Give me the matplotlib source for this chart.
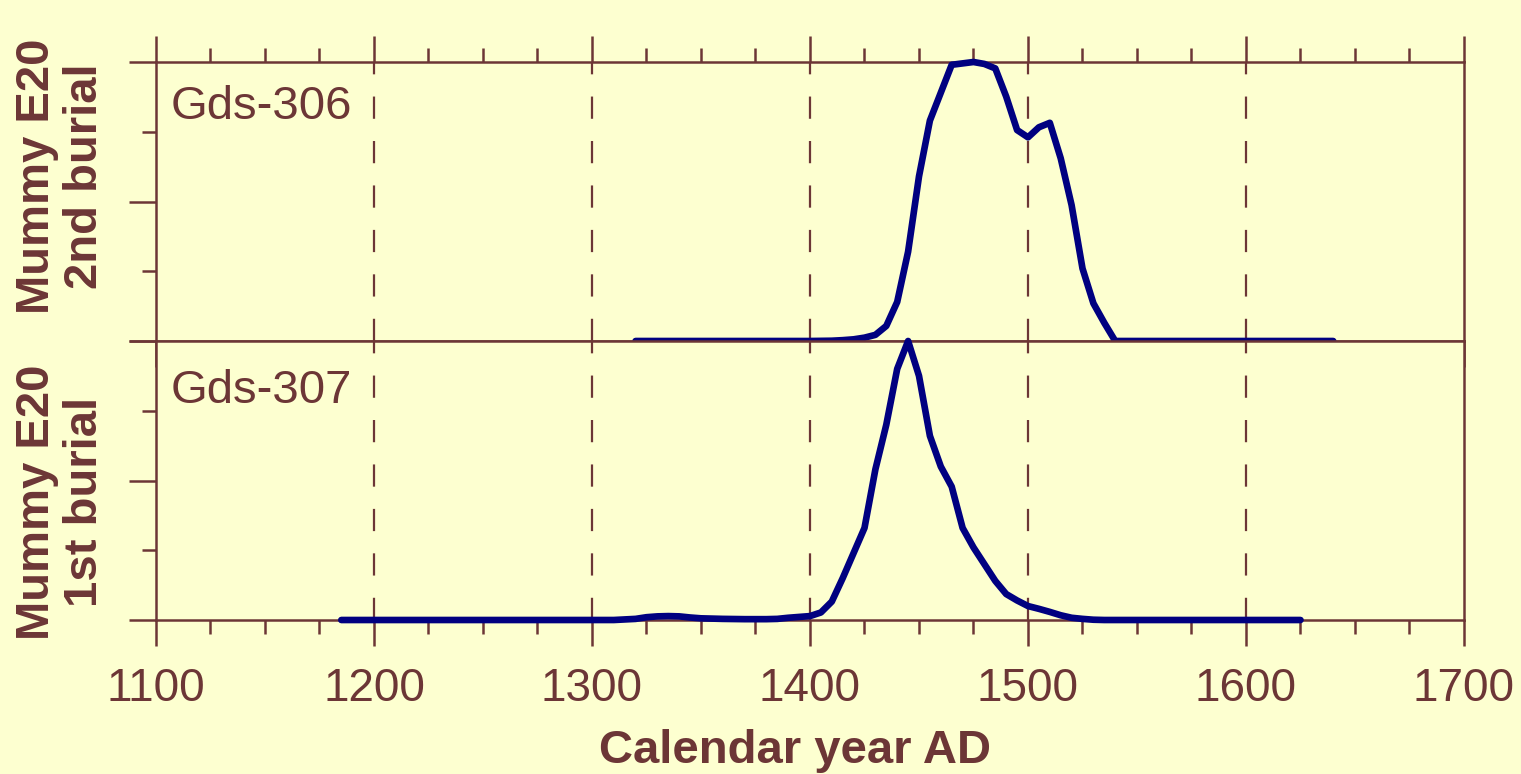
import matplotlib
matplotlib.use('Agg')
import matplotlib.pyplot as plt
from matplotlib.ticker import MultipleLocator

# Gds-306 (mummy E20, 2nd burial)
anos_306 = [1320, 1400, 1410, 1415, 1420, 1425, 1430, 1435, 1440, 1445, 1450, 1455,
            1460, 1465, 1470, 1475, 1480, 1485, 1490, 1495, 1500, 1505, 1510, 1515,
            1520, 1525, 1530, 1535, 1540, 1640]
prob_306 = [0.0, 0.0, 0.001, 0.003, 0.006, 0.012, 0.022, 0.054, 0.14, 0.32, 0.59, 0.79,
            0.89, 0.99, 0.995, 1.0, 0.993, 0.977, 0.876, 0.756, 0.73, 0.766, 0.782, 0.655,
            0.487, 0.26, 0.135, 0.065, 0.0, 0.0]

# Gds-307 (mummy E20, 1st burial)
anos_307 = [1185, 1310, 1320, 1325, 1330, 1335, 1340, 1345, 1350, 1360, 1370, 1380,
            1385, 1390, 1395, 1400, 1405, 1410, 1415, 1420, 1425, 1430, 1435, 1440,
            1445, 1450, 1455, 1460, 1465, 1470, 1475, 1480, 1485, 1490, 1495, 1500,
            1505, 1510, 1515, 1520, 1525, 1530, 1535, 1625]
prob_307 = [0.0, 0.0, 0.004, 0.01, 0.013, 0.014, 0.013, 0.009, 0.006, 0.004, 0.003, 0.003,
            0.004, 0.008, 0.011, 0.014, 0.027, 0.066, 0.15, 0.24, 0.33, 0.54, 0.70, 0.90,
            1.0, 0.875, 0.66, 0.55, 0.478, 0.33, 0.26, 0.2, 0.14, 0.093, 0.07, 0.05,
            0.04, 0.029, 0.017, 0.008, 0.004, 0.001, 0.0, 0.0]

rotulos = ['Gds-306', 'Gds-307']
titulos_y = ['Mummy E20\n2nd burial', 'Mummy E20\n1st burial']

FUNDO = '#fdffd0'
MARROM = '#6c3636'
AZUL = '#000080'

plt.rcParams['font.family'] = ['Liberation Sans', 'DejaVu Sans']
plt.rcParams['lines.scale_dashes'] = False


def formatar_eixo(ax, topo, base):
    ax.set_facecolor(FUNDO)
    ax.set_xlim(1100, 1700)
    ax.set_ylim(0, 1)
    for s in ax.spines.values():
        s.set_color(MARROM)
        s.set_linewidth(1.8)
    ax.xaxis.set_major_locator(MultipleLocator(100))
    ax.xaxis.set_minor_locator(MultipleLocator(25))
    ax.yaxis.set_major_locator(MultipleLocator(0.5))
    ax.yaxis.set_minor_locator(MultipleLocator(0.25))
    ax.tick_params(axis='x', which='both', direction='out', color=MARROM, width=1.8,
                   top=topo, bottom=base, labeltop=False, labelbottom=False)
    ax.tick_params(axis='x', which='major', length=18.5)
    ax.tick_params(axis='x', which='minor', length=10)
    ax.tick_params(axis='y', which='both', direction='out', color=MARROM, width=1.8,
                   left=True, right=False, labelleft=False)
    ax.tick_params(axis='y', which='major', length=19.5)
    ax.tick_params(axis='y', which='minor', length=10)
    # linhas tracejadas verticais
    for ano in [1200, 1300, 1400, 1500, 1600]:
        ax.axvline(ano, color=MARROM, lw=1.6, dashes=(16, 16), zorder=1)


def main():
    fig = plt.figure(figsize=(15.21, 7.74), dpi=100, facecolor=FUNDO)
    esq = 156 / 1521
    larg = (1464 - 156) / 1521
    alt = 279 / 774
    ax1 = fig.add_axes([esq, 1 - 341 / 774, larg, alt])
    ax2 = fig.add_axes([esq, 1 - 620 / 774, larg, alt])

    formatar_eixo(ax1, True, True)
    formatar_eixo(ax2, False, True)
    ax2.tick_params(axis='x', labelbottom=True, labelsize=33, labelcolor=MARROM, pad=15)

    ax1.plot(anos_306, prob_306, color=AZUL, lw=4.8, clip_on=False, zorder=5,
             solid_capstyle='round', solid_joinstyle='round')
    ax2.plot(anos_307, prob_307, color=AZUL, lw=4.8, clip_on=False, zorder=5,
             solid_capstyle='round', solid_joinstyle='round')

    ax1.text(0.011, 0.796, rotulos[0], transform=ax1.transAxes, fontsize=34,
             color=MARROM, va='baseline', ha='left')
    ax2.text(0.011, 0.778, rotulos[1], transform=ax2.transAxes, fontsize=34,
             color=MARROM, va='baseline', ha='left')

    fig.text(61 / 1521, 1 - 176 / 774, titulos_y[0], rotation=90, fontsize=34,
             fontweight='bold', color=MARROM, ha='center', va='center',
             multialignment='center', linespacing=1.13)
    fig.text(61 / 1521, 1 - 502 / 774, titulos_y[1], rotation=90, fontsize=34,
             fontweight='bold', color=MARROM, ha='center', va='center',
             multialignment='center', linespacing=1.13)

    fig.text(795 / 1521, 1 - 763 / 774, 'Calendar year AD', fontsize=34,
             fontweight='bold', color=MARROM, ha='center', va='baseline')

    fig.savefig('out.png', dpi=100, facecolor=FUNDO)


if __name__ == "__main__":
    main()
